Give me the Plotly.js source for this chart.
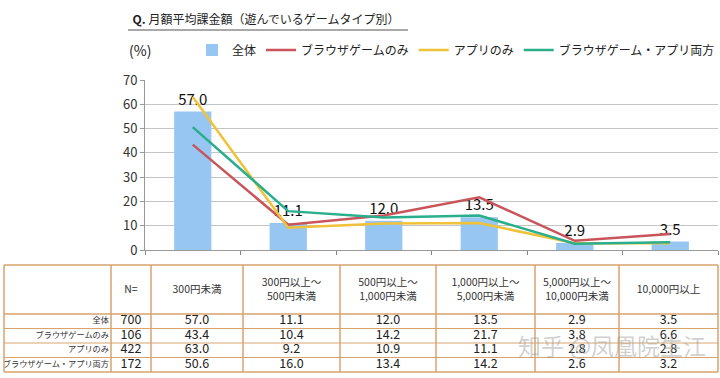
<!DOCTYPE html>
<html>
<head>
<meta charset="utf-8">
<script src="https://cdn.plot.ly/plotly-3.0.1.min.js"></script>
<style>html,body{margin:0;padding:0;background:#fff;}#chart{width:720px;height:378px;}</style>
</head>
<body>
<div id="chart"></div>
<script>
const categories = ["300円未満", "300円以上～<br>500円未満", "500円以上～<br>1,000円未満", "1,000円以上～<br>5,000円未満", "5,000円以上～<br>10,000円未満", "10,000円以上"];
const seriesNames = ["全体", "ブラウザゲームのみ", "アプリのみ", "ブラウザゲーム・アプリ両方"];
const sampleN = [700, 106, 422, 172];
const allValues = [57.0, 11.1, 12.0, 13.5, 2.9, 3.5];
const browserOnly = [43.4, 10.4, 14.2, 21.7, 3.8, 6.6];
const appOnly = [63.0, 9.2, 10.9, 11.1, 2.8, 2.8];
const both = [50.6, 16.0, 13.4, 14.2, 2.6, 3.2];

const W = 720, H = 378;
const px = x => x / W;
const py = y => 1 - y / H;

const font = "'Noto Sans CJK JP', 'Noto Sans', sans-serif";
const lineColors = ["#c9555b", "#f0c23a", "#2aae8c"];
const lineSeries = [browserOnly, appOnly, both];

const traces = [];
traces.push({
  type: 'bar', x: categories, y: allValues, name: seriesNames[0],
  marker: {color: '#97c6f2'}, width: 0.39,
  texttemplate: '%{y:.1f}', textposition: 'outside', cliponaxis: false,
  textfont: {size: 15, color: '#111', family: font},
  xaxis: 'x', yaxis: 'y'
});
lineSeries.forEach((s, i) => {
  traces.push({
    type: 'scatter', mode: 'lines', x: categories, y: s, name: seriesNames[i + 1],
    line: {color: lineColors[i], width: 2.5}, xaxis: 'x', yaxis: 'y'
  });
});

// ---- table (drawn on hidden pixel-unit axes x2/y2) ----
const colWidths = [107, 40, 92, 97, 96, 99, 84, 99];
const tableLeft = 4, tableTop = 265, headerH = 49, rowH = 14.5;
const colEdges = [tableLeft];
colWidths.forEach(w => colEdges.push(colEdges[colEdges.length - 1] + w));
const rowEdges = [tableTop, tableTop + headerH];
seriesNames.forEach(() => rowEdges.push(rowEdges[rowEdges.length - 1] + rowH));
const colCenter = i => (colEdges[i] + colEdges[i + 1]) / 2;
const rowCenter = r => (rowEdges[r + 1] + rowEdges[r + 2]) / 2;
const fmt = v => v.toFixed(1);
const allSeries = [allValues, browserOnly, appOnly, both];
const headerVals = ["N="].concat(categories);

traces.push({
  type: 'scatter', mode: 'text', xaxis: 'x2', yaxis: 'y2', showlegend: false, hoverinfo: 'skip',
  x: headerVals.map((h, i) => colCenter(i + 1)),
  y: headerVals.map(() => tableTop + headerH / 2 + 1),
  text: headerVals, textposition: 'middle center',
  textfont: {family: font, size: 10.5, color: '#333'}
});
traces.push({
  type: 'scatter', mode: 'text', xaxis: 'x2', yaxis: 'y2', showlegend: false, hoverinfo: 'skip',
  x: seriesNames.map(() => colEdges[1] - 2),
  y: seriesNames.map((s, r) => rowCenter(r)),
  text: seriesNames, textposition: 'middle left',
  textfont: {family: font, size: 8.2, color: '#333'}
});
traces.push({
  type: 'scatter', mode: 'text', xaxis: 'x2', yaxis: 'y2', showlegend: false, hoverinfo: 'skip',
  x: sampleN.map(() => colCenter(1)),
  y: sampleN.map((s, r) => rowCenter(r)),
  text: sampleN.map(String), textposition: 'middle center',
  textfont: {family: font, size: 12.5, color: '#222'}
});
categories.forEach((c, ci) => {
  traces.push({
    type: 'scatter', mode: 'text', xaxis: 'x2', yaxis: 'y2', showlegend: false, hoverinfo: 'skip',
    x: allSeries.map(() => colCenter(ci + 2)),
    y: allSeries.map((s, r) => rowCenter(r)),
    text: allSeries.map(s => fmt(s[ci])), textposition: 'middle center',
    textfont: {family: font, size: 12.5, color: '#222'}
  });
});

const tableColor = '#d8a36c';
const shapes = [
  {type: 'line', xref: 'paper', yref: 'paper', x0: px(128), x1: px(408), y0: py(30), y1: py(30),
   line: {color: '#555', width: 1.2}}
];
colEdges.forEach((x) => shapes.push({
  type: 'line', xref: 'x2', yref: 'y2', x0: x, x1: x, y0: rowEdges[0], y1: rowEdges[rowEdges.length - 1],
  line: {color: tableColor, width: 1.5}
}));
rowEdges.forEach((y, i) => shapes.push({
  type: 'line', xref: 'x2', yref: 'y2', x0: colEdges[0], x1: colEdges[colEdges.length - 1], y0: y, y1: y,
  line: {color: tableColor, width: (i <= 1 || i === rowEdges.length - 1) ? 1.5 : 1}
}));

const layout = {
  width: W, height: H,
  margin: {l: 0, r: 0, t: 0, b: 0},
  paper_bgcolor: '#fff', plot_bgcolor: 'rgba(0,0,0,0)',
  showlegend: true,
  title: {
    text: '<b>Q.</b> 月額平均課金額（遊んでいるゲームタイプ別）',
    x: px(266), xanchor: 'center', y: py(20), yanchor: 'middle',
    font: {family: font, size: 12, color: '#222'}
  },
  legend: {
    orientation: 'h', x: px(192), xanchor: 'left', y: py(50), yanchor: 'middle',
    font: {family: font, size: 12, color: '#222'}, bgcolor: 'rgba(0,0,0,0)',
    traceorder: 'normal'
  },
  xaxis: {
    domain: [px(145), px(718)], anchor: 'y',
    showticklabels: false, ticks: 'outside', tickson: 'boundaries', ticklen: 4,
    tickcolor: '#888', showline: true, linecolor: '#999', linewidth: 1,
    showgrid: false, fixedrange: true
  },
  yaxis: {
    domain: [py(250), py(80)], anchor: 'x',
    range: [0, 70], dtick: 10, tick0: 0,
    showgrid: true, gridcolor: '#c4c4c4', gridwidth: 1,
    showline: true, linecolor: '#999', ticks: 'outside', ticklen: 4, tickcolor: '#999',
    tickfont: {family: font, size: 13, color: '#333'}, zeroline: false
  },
  xaxis2: {domain: [0, 1], range: [0, W], visible: false, anchor: 'y2', fixedrange: true},
  yaxis2: {domain: [0, 1], range: [H, 0], visible: false, anchor: 'x2', fixedrange: true},
  shapes: shapes,
  annotations: [
    {text: '(%)', xref: 'paper', yref: 'paper', x: px(140), y: py(50), xanchor: 'center', yanchor: 'middle',
     showarrow: false, font: {family: font, size: 14, color: '#222'}},
    {text: '知乎 @凤凰院生江', xref: 'paper', yref: 'paper', x: px(612), y: py(345), xanchor: 'center', yanchor: 'middle',
     showarrow: false,
     font: {family: "'Noto Sans CJK SC', sans-serif", size: 23, color: 'rgba(150,150,150,0.45)'}}
  ]
};

Plotly.newPlot('chart', traces, layout, {displayModeBar: false, staticPlot: true});
</script>
</body>
</html>
